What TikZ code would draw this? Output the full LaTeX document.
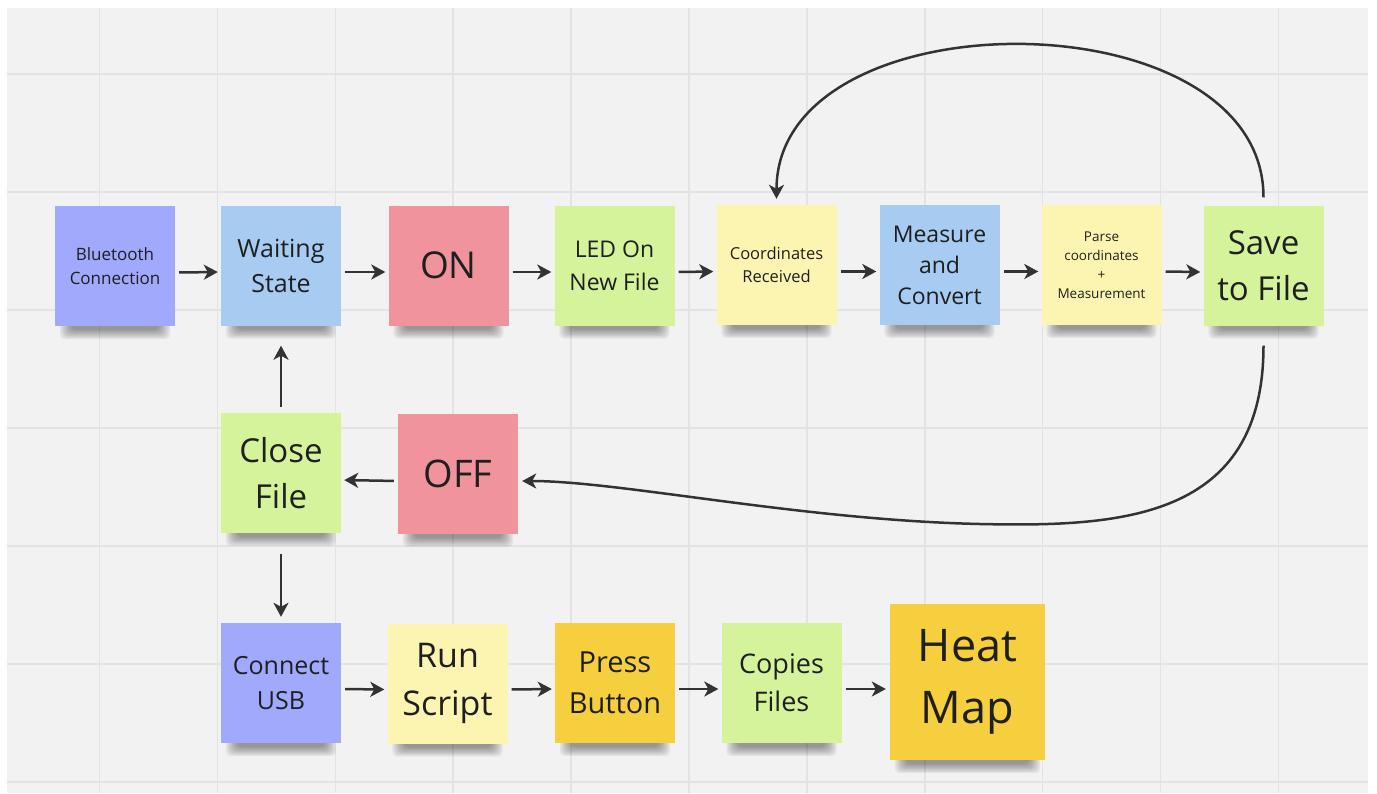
\documentclass[tikz,border=0pt]{standalone}
\usepackage{fontspec}
\setmainfont{Open Sans}
\usetikzlibrary{arrows.meta}

\definecolor{board}{HTML}{F2F2F2}
\definecolor{gridline}{HTML}{E3E3E3}
\definecolor{ink}{HTML}{1F1F1F}
\definecolor{wire}{HTML}{333333}
\definecolor{violet}{HTML}{A0A9FB}
\definecolor{sky}{HTML}{A7CBF1}
\definecolor{rose}{HTML}{F0939D}
\definecolor{lime}{HTML}{D5F39A}
\definecolor{cream}{HTML}{FCF5B1}
\definecolor{gold}{HTML}{F5CF3E}

\pgfdeclarelayer{boardlayer}
\pgfdeclarelayer{shadelayer}
\pgfsetlayers{boardlayer,shadelayer,main}

\tikzset{
  gridrule/.style={draw=gridline, line width=1.5pt},
  note/.style={minimum width=120pt, minimum height=120pt, inner sep=0pt,
    align=center, text=ink},
  bignote/.style={note, minimum width=155pt, minimum height=156pt},
  softshade/.style={fill=black, fill opacity=0.055, rounded corners=5pt},
  conn/.style={draw=wire, line width=2.5pt,
    -{Stealth[length=14pt,width=15pt,inset=4pt]},
    shorten <=4pt, shorten >=3pt},
  fs/.style n args={2}{font=\fontsize{#1}{#2}\selectfont},
}

\begin{document}
\begin{tikzpicture}[x=1pt,y=-1pt]
  \useasboundingbox (0,0) rectangle (1377,793);

  \begin{pgfonlayer}{boardlayer}
    \fill[white] (0,0) rectangle (1377,793);
    \fill[board] (7,8) rectangle (1368,793);
    % whiteboard grid
    \foreach \i in {0,...,10}
      \draw[gridrule] ({99.5+117.9*\i},8) -- ({99.5+117.9*\i},793);
    \foreach \j in {0,...,6}
      \draw[gridrule] (7,{74+118*\j}) -- (1368,{74+118*\j});
  \end{pgfonlayer}

  % first row: recording loop
  \node[note, fill=violet, fs={17}{24}] (bt)  at (115,266)    {Bluetooth\\Connection};
  \node[note, fill=sky,    fs={25}{35}] (ws)  at (281,265.5)  {Waiting\\State};
  \node[note, fill=rose,   fs={37}{44}] (on)  at (448.5,265.5){ON};
  \node[note, fill=lime,   fs={23}{33}] (led) at (614.5,265.5){LED On\\New File};
  \node[note, fill=cream,  fs={16.5}{23}] (cr) at (776.5,265) {Coordinates\\Received};
  \node[note, fill=sky,    fs={23}{31}] (mc)  at (939.5,265)  {Measure\\and\\Convert};
  \node[note, fill=cream,  fs={13.5}{19}] (pc) at (1101.5,265){Parse\\coordinates\\+\\Measurement};
  \node[note, fill=lime,   fs={33}{46}] (sf)  at (1263.5,265.5){Save\\to File};

  % second row: shutdown
  \node[note, fill=lime,   fs={33}{46}] (cf)  at (281,473)    {Close\\File};
  \node[note, fill=rose,   fs={38}{44}] (off) at (458,474)    {OFF};

  % third row: export
  \node[note, fill=violet, fs={25}{35}] (usb) at (281,683)    {Connect\\USB};
  \node[note, fill=cream,  fs={34}{48}] (rs)  at (447.5,683.5){Run\\Script};
  \node[note, fill=gold,   fs={29}{41}] (pb)  at (615,683)    {Press\\Button};
  \node[note, fill=lime,   fs={27}{38}] (cp)  at (781.5,683)  {Copies\\Files};
  \node[bignote, fill=gold, fs={45}{62}] (hm) at (967.5,682)  {Heat\\Map};

  % soft shadows under the lower edge of every note
  \begin{pgfonlayer}{shadelayer}
    \foreach \n in {bt,ws,on,led,cr,mc,pc,sf,cf,off,usb,rs,pb,cp,hm}
      \foreach \k in {0,...,7}
        \fill[softshade]
          ([xshift={(5+1.6*\k)*1pt}, yshift=20pt]\n.south west)
          rectangle ([xshift={(-5-1.6*\k)*1pt}, yshift={(-13+1.3*\k)*1pt}]\n.south east);
  \end{pgfonlayer}

  % straight connectors
  \foreach \a/\b in {bt/ws, ws/on, on/led, led/cr, cr/mc, mc/pc, pc/sf}
    \draw[conn] ([yshift=-6.5pt]\a.east) -- ([yshift=-6.5pt]\b.west);
  \foreach \a/\b in {usb/rs, rs/pb, pb/cp}
    \draw[conn] ([yshift=-6pt]\a.east) -- ([yshift=-6pt]\b.west);
  \draw[conn, shorten <=4pt, shorten >=4pt]
    ([yshift=-6pt]cp.east) -- ([yshift=-7pt]hm.west);
  \draw[conn] ([yshift=-7pt]off.west) -- ([yshift=-7pt]cf.east);
  \draw[conn, shorten <=6pt, shorten >=20pt] (cf.north) -- (ws.south);
  \draw[conn, shorten <=21pt, shorten >=6pt] (cf.south) -- (usb.north);

  % loop back: save -> next coordinates
  \draw[conn, shorten <=8pt, shorten >=6pt]
    (sf.north) .. controls +(0,-211) and +(0,-211) .. (cr.north);

  % stop: save -> off
  \draw[conn, shorten <=20pt, shorten >=4pt]
    (sf.south) .. controls (1263.5,520) and (1120,527) .. (980,524)
    .. controls (800,520) and (620,481) .. ([yshift=-7pt]off.east);
\end{tikzpicture}
\end{document}
